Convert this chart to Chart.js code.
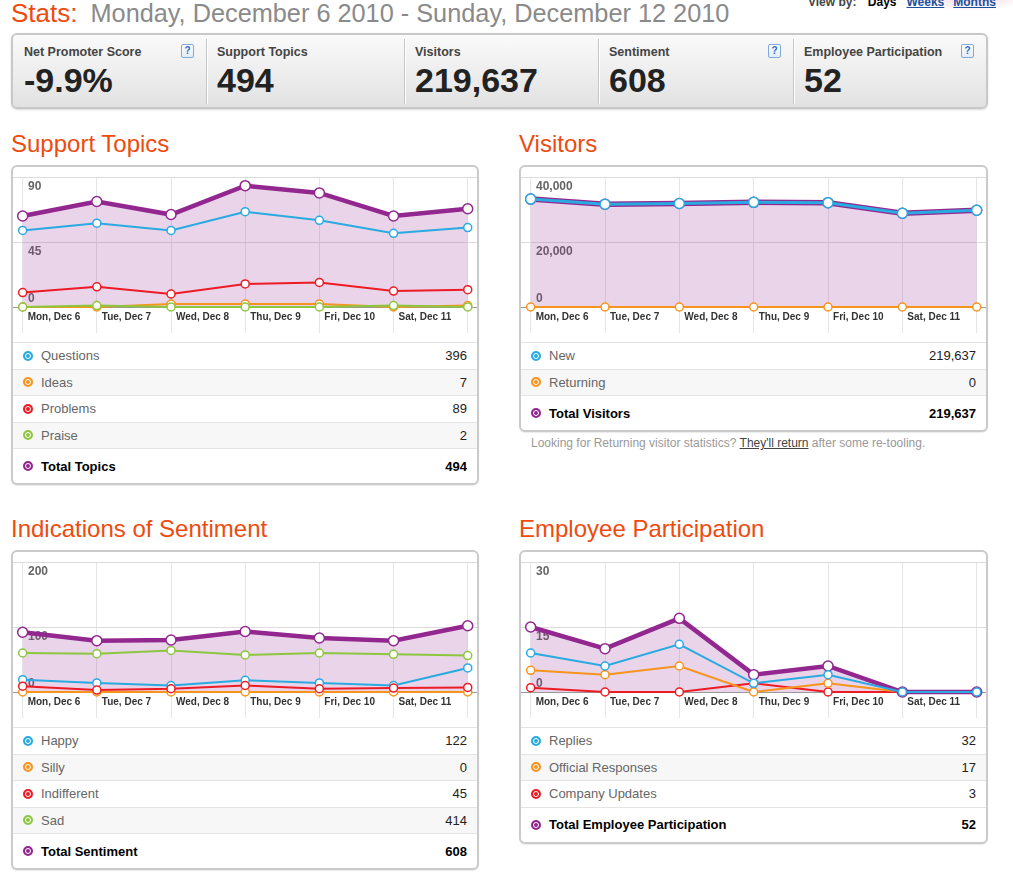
<!DOCTYPE html>
<html>
<head>
<meta charset="utf-8">
<title>Stats</title>
<script src="https://cdn.jsdelivr.net/npm/chart.js@4.4.0/dist/chart.umd.min.js"></script>
<style>
body { margin:0; width:1013px; height:875px; overflow:hidden; background:#fff; position:relative;
  font-family:"Liberation Sans", Arial, Helvetica, sans-serif; }
.head { position:absolute; left:11px; top:0; font-size:25.3px; line-height:26px; color:#8a8a8a; white-space:nowrap; }
.head span { color:#ee4b0e; font-size:26px; margin-right:13px; }
.viewby { position:absolute; left:808px; top:-4px; font-size:12px; line-height:12px; font-weight:bold; color:#444; white-space:nowrap; }
.viewby b { color:#000; margin:0 10px 0 8px; }
.viewby a { color:#1a4f9c; text-decoration:underline; margin-right:9px; }
.flower { position:absolute; left:900px; top:-30px; width:120px; height:42px;
  background:radial-gradient(ellipse at 60% 30%, rgba(232,120,165,.55), rgba(255,255,255,0) 70%); }
.stats { position:absolute; left:11px; top:33px; width:973px; height:72px; border:2px solid #c8c8c8; border-radius:6px;
  background:linear-gradient(#fafafa, #e2e2e2); box-shadow:0 1px 2px rgba(0,0,0,.15); }
.cell { position:absolute; top:0; height:72px; }
.cell.sep::before { content:""; position:absolute; left:0; top:4px; bottom:3px; border-left:1px solid #c6c6c6; box-shadow:1px 0 0 #fff; }
.cell .lab { position:absolute; left:11px; top:10px; font-size:12.5px; line-height:14px; font-weight:bold; color:#444; white-space:nowrap; }
.cell .val { position:absolute; left:11px; top:28px; font-size:34px; line-height:34px; font-weight:bold; color:#222; white-space:nowrap; }
.q { position:absolute; top:9px; width:11px; height:12px; border:1px solid #7fa9d8; border-radius:2px;
  background:linear-gradient(#fff, #e2ecf9); color:#2b6cc4; font-size:10px; font-weight:bold; line-height:12px; text-align:center; }
.title { position:absolute; font-size:24px; line-height:24px; color:#ee4b0e; white-space:nowrap; }
.panel { position:absolute; border:2px solid #cacaca; border-radius:6px; background:#fff; box-shadow:0 1px 1px rgba(0,0,0,.08); overflow:hidden; }
.panel canvas { display:block; }
.row { height:26.5px; box-sizing:border-box; border-top:1px solid #e4e4e4; display:flex; align-items:center;
  padding:0 10px 0 10px; font-size:13px; color:#666; }
.row.alt { background:#f7f7f7; }
.row .n { margin-left:auto; color:#222; }
.row.total { height:35px; font-weight:bold; color:#000; }
.row.total .n { color:#000; }
.dot { width:6px; height:6px; border-radius:50%; border:2px solid; margin-right:8px; box-shadow:inset 0 0 0 1px #fff; flex:none; }
.note { position:absolute; left:531px; top:436px; font-size:12px; line-height:14px; color:#999; white-space:nowrap; }
.note u { color:#444; }
</style>
</head>
<body>

<div class="flower"></div>
<div class="head"><span>Stats:</span>Monday, December 6 2010 - Sunday, December 12 2010</div>
<div class="viewby">View by: <b>Days</b><a>Weeks</a><a>Months</a></div>
<div class="stats" id="stats"></div>

<div class="title" style="left:11px;top:132px">Support Topics</div>
<div class="panel" style="left:11px;top:165px;width:464px">
  <canvas id="topicsChart" width="464" height="175"></canvas>
  <div id="topicsTable"></div>
</div>

<div class="title" style="left:519px;top:132px">Visitors</div>
<div class="panel" style="left:519px;top:165px;width:465px">
  <canvas id="visitorsChart" width="465" height="175"></canvas>
  <div id="visitorsTable"></div>
</div>
<div class="note">Looking for Returning visitor statistics? <u>They'll return</u> after some re-tooling.</div>

<div class="title" style="left:11px;top:517px">Indications of Sentiment</div>
<div class="panel" style="left:11px;top:550px;width:464px">
  <canvas id="sentimentChart" width="464" height="175"></canvas>
  <div id="sentimentTable"></div>
</div>

<div class="title" style="left:519px;top:517px">Employee Participation</div>
<div class="panel" style="left:519px;top:550px;width:465px">
  <canvas id="employeeChart" width="465" height="175"></canvas>
  <div id="employeeTable"></div>
</div>

<script>
// days on the x axis (the last one has no room for its label)
var days = ['Mon, Dec 6', 'Tue, Dec 7', 'Wed, Dec 8', 'Thu, Dec 9', 'Fri, Dec 10', 'Sat, Dec 11', 'Sun, Dec 12'];

// summary strip
var statLabels = ['Net Promoter Score', 'Support Topics', 'Visitors', 'Sentiment', 'Employee Participation'];
var statValues = ['-9.9%', '494', '219,637', '608', '52'];
var statHelp = [true, false, false, true, true];

// support topics
var topicsTotal = [63, 73, 64, 84, 79, 63, 68];
var questions = [53, 58, 53, 66, 60, 51, 55];
var problems = [10, 14, 9, 16, 17, 11, 12];
var ideas = [0, 0, 2, 2, 2, 0, 1];
var praise = [0, 1, 0, 0, 0, 1, 0];
var topicRows = ['Questions', 'Ideas', 'Problems', 'Praise', 'Total Topics'];
var topicCounts = ['396', '7', '89', '2', '494'];

// visitors
var newVisitors = [33200, 31650, 31850, 32200, 32100, 28850, 29787];
var returningVisitors = [0, 0, 0, 0, 0, 0, 0];
var totalVisitors = [33200, 31650, 31850, 32200, 32100, 28850, 29787];
var visitorRows = ['New', 'Returning', 'Total Visitors'];
var visitorCounts = ['219,637', '0', '219,637'];

// sentiment
var sentimentTotal = [92, 79, 80, 93, 83, 79, 102];
var happy = [19, 14, 10, 18, 14, 10, 37];
var silly = [0, 0, 0, 0, 0, 0, 0];
var indifferent = [9, 3, 5, 10, 5, 6, 7];
var sad = [60, 59, 64, 57, 60, 58, 56];
var sentimentRows = ['Happy', 'Silly', 'Indifferent', 'Sad', 'Total Sentiment'];
var sentimentCounts = ['122', '0', '45', '414', '608'];

// employee participation
var employeeTotal = [15, 10, 17, 4, 6, 0, 0];
var replies = [9, 6, 11, 2, 4, 0, 0];
var officialResponses = [5, 4, 6, 0, 2, 0, 0];
var companyUpdates = [1, 0, 0, 2, 0, 0, 0];
var employeeRows = ['Replies', 'Official Responses', 'Company Updates', 'Total Employee Participation'];
var employeeCounts = ['32', '17', '3', '52'];

var BLUE = '#29aae1', ORANGE = '#f7941d', RED = '#ed1c24', GREEN = '#8dc63f', PURPLE = '#92278f';

// ---- summary strip ----
var cellLeft = [0, 193, 391, 585, 780];
var cellWidth = [193, 198, 194, 195, 193];
var stats = document.getElementById('stats');
statLabels.forEach(function(lab, i) {
	var c = document.createElement('div');
	c.className = 'cell' + (i > 0 ? ' sep' : '');
	c.style.left = cellLeft[i] + 'px';
	c.style.width = cellWidth[i] + 'px';
	c.innerHTML = '<div class="lab">' + lab + '</div><div class="val">' + statValues[i] + '</div>' +
		(statHelp[i] ? '<div class="q" style="left:' + (cellWidth[i] - 25) + 'px">?</div>' : '');
	stats.appendChild(c);
});

// ---- tables under the charts ----
function buildTable(id, labels, counts, colors) {
	var el = document.getElementById(id);
	labels.forEach(function(lab, i) {
		var last = i === labels.length - 1;
		var r = document.createElement('div');
		r.className = 'row' + (last ? ' total' : (i % 2 ? ' alt' : ''));
		r.innerHTML = '<span class="dot" style="border-color:' + colors[i] + ';background:' + colors[i] + '"></span>' +
			'<span>' + lab + '</span><span class="n">' + counts[i] + '</span>';
		el.appendChild(r);
	});
}

buildTable('topicsTable', topicRows, topicCounts, [BLUE, ORANGE, RED, GREEN, PURPLE]);
buildTable('visitorsTable', visitorRows, visitorCounts, [BLUE, ORANGE, PURPLE]);
buildTable('sentimentTable', sentimentRows, sentimentCounts, [BLUE, ORANGE, RED, GREEN, PURPLE]);
buildTable('employeeTable', employeeRows, employeeCounts, [BLUE, ORANGE, RED, PURPLE]);

// ---- charts ----
function lineSet(values, color, extra) {
	var ds = {
		data: values.map(function(v, i) { return {x: i, y: v}; }),
		borderColor: color,
		borderWidth: 2,
		pointRadius: 4,
		pointBorderWidth: 1.5,
		pointBorderColor: color,
		pointBackgroundColor: '#fff',
		fill: false,
		clip: false
	};
	for (var k in extra) ds[k] = extra[k];
	return ds;
}

function totalSet(values) {
	return lineSet(values, PURPLE, {
		borderWidth: 4.5,
		pointRadius: 5,
		fill: 'origin',
		backgroundColor: 'rgba(146,39,143,0.2)'
	});
}

function fmt(v) { return Number(v).toLocaleString('en-US'); }

// no label overflow padding: the plot fills the whole canvas width
function noPad(s) {
	s.paddingLeft = 0; s.paddingRight = 0; s.paddingTop = 0; s.paddingBottom = 0;
}

function drawLineChart(id, yMax, yStep, sets) {
	var tickFont = {size: 12, weight: 'bold', family: '"Liberation Sans", Arial, sans-serif'};
	return new Chart(document.getElementById(id), {
		type: 'line',
		data: {datasets: sets},
		options: {
			responsive: false,
			animation: false,
			layout: {autoPadding: false, padding: {top: 10, left: 0, right: 0, bottom: 0}},
			elements: {line: {tension: 0}},
			plugins: {
				legend: {display: false},
				tooltip: {enabled: false},
				filler: {drawTime: 'beforeDatasetsDraw'}
			},
			scales: {
				x: {
					type: 'linear', min: -0.13, max: 6.125,
					afterFit: function(s) { s.height = 35; noPad(s); },
					border: {color: '#999'},
					grid: {color: '#e6e6e6', tickColor: '#e6e6e6', tickLength: 26},
					ticks: {
						stepSize: 1, includeBounds: false, autoSkip: false, maxRotation: 0,
						align: 'start', labelOffset: 5, padding: -22, color: '#333',
						font: {size: 10, weight: 'bold', family: '"Liberation Sans", Arial, sans-serif'},
						callback: function(v) { return v < days.length - 1 ? days[v] : ''; }
					}
				},
				y: {
					min: 0, max: yMax,
					afterFit: function(s) { s.width = 0; noPad(s); },
					border: {display: false},
					grid: {
						drawTicks: false,
						color: function(c) { return c.tick && c.tick.value === 0 ? '#999' : '#dcdcdc'; }
					},
					ticks: {
						stepSize: yStep, mirror: true, align: 'start', padding: 15, labelOffset: 4,
						color: '#666', font: tickFont,
						callback: function(v) { return v === 0 ? '' : fmt(v); }
					}
				},
				y0: {
					min: 0, max: yMax, position: 'left',
					afterFit: function(s) { s.width = 0; noPad(s); },
					border: {display: false},
					grid: {display: false},
					ticks: {
						stepSize: yStep, mirror: true, align: 'end', padding: 15, labelOffset: -2,
						color: '#666', font: tickFont,
						callback: function(v) { return v === 0 ? '0' : ''; }
					}
				}
			}
		}
	});
}

drawLineChart('topicsChart', 90, 45, [
	totalSet(topicsTotal),
	lineSet(questions, BLUE),
	lineSet(problems, RED),
	lineSet(praise, GREEN),
	lineSet(ideas, ORANGE)
]);

drawLineChart('visitorsChart', 40000, 20000, [
	lineSet(returningVisitors, ORANGE),
	lineSet(newVisitors, BLUE, {borderWidth: 3, pointRadius: 5}),
	lineSet(totalVisitors, PURPLE, {borderWidth: 5.5, pointRadius: 5, fill: 'origin', backgroundColor: 'rgba(146,39,143,0.2)'})
]);

drawLineChart('sentimentChart', 200, 100, [
	totalSet(sentimentTotal),
	lineSet(indifferent, RED),
	lineSet(happy, BLUE),
	lineSet(sad, GREEN),
	lineSet(silly, ORANGE)
]);

drawLineChart('employeeChart', 30, 15, [
	lineSet(replies, BLUE),
	totalSet(employeeTotal),
	lineSet(officialResponses, ORANGE),
	lineSet(companyUpdates, RED)
]);
</script>
</body>
</html>
